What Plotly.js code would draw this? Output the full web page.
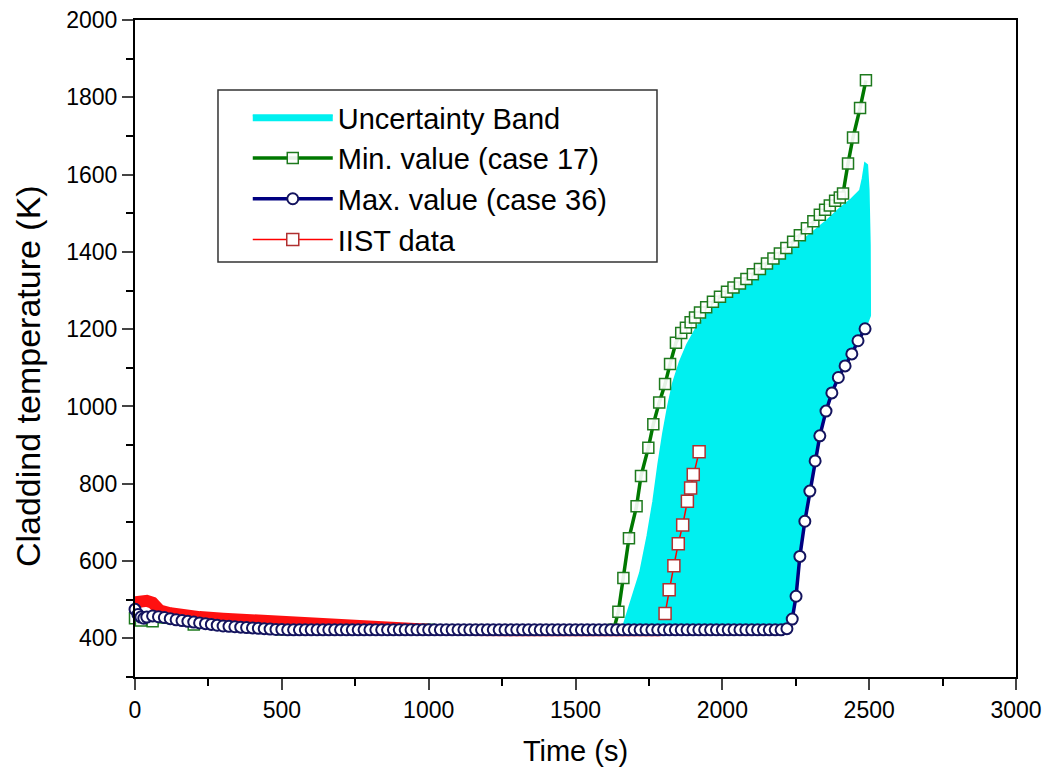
<!DOCTYPE html>
<html><head><meta charset="utf-8">
<script src="https://cdn.plot.ly/plotly-3.0.1.min.js"></script>
<style>body{margin:0;background:#fff}#chart{width:1052px;height:782px}</style>
</head><body><div id="chart"></div>
<script>
// Uncertainty band outline
const bandUpperTime = [1660, 1668, 1690, 1720, 1745, 1765, 1782, 1798, 1815, 1832, 1855, 1880, 1915, 1958, 2010, 2060, 2120, 2196, 2280, 2350, 2400, 2440, 2469, 2478, 2486, 2493, 2498, 2502, 2503];
const bandUpperTemp = [425, 445, 500, 570, 665, 755, 850, 929, 1000, 1060, 1115, 1160, 1208, 1248, 1278, 1302, 1335, 1377, 1433, 1477, 1512, 1537, 1559, 1590, 1629, 1625, 1560, 1420, 1235];
const bandLowerTime = [1660, 2000, 2225, 2238, 2251, 2264, 2281, 2298, 2316, 2332, 2353, 2373, 2395, 2418, 2441, 2462, 2486, 2503];
const bandLowerTemp = [425, 425, 427, 450, 509, 612, 703, 781, 859, 924, 988, 1035, 1075, 1105, 1136, 1170, 1201, 1235];

// Min. value (case 17)
const minTime = [0, 20, 60, 200, 500, 1000, 1630, 1646, 1663, 1682, 1708, 1723, 1748, 1765, 1785, 1805, 1822, 1842, 1860, 1876, 1892, 1907, 1924, 1945, 1968, 1992, 2016, 2038, 2060, 2082, 2104, 2128, 2152, 2174, 2196, 2218, 2241, 2264, 2288, 2310, 2332, 2350, 2366, 2384, 2400, 2411, 2428, 2445, 2469, 2489];
const minTemp = [452, 446, 444, 436, 423, 422, 422, 469, 556, 659, 742, 820, 893, 954, 1010, 1058, 1110, 1165, 1190, 1204, 1218, 1230, 1243, 1257, 1271, 1284, 1297, 1308, 1318, 1330, 1342, 1356, 1370, 1383, 1396, 1410, 1426, 1443, 1461, 1479, 1496, 1509, 1520, 1532, 1541, 1551, 1629, 1696, 1772, 1844];

// Max. value (case 36)
const maxTime = [0, 10, 20, 30, 40, 60, 80, 100, 120, 140, 160, 180, 200, 220, 240, 260, 280, 300, 320, 340, 360, 380, 400, 420, 440, 460, 480, 500, 520,
  540, 560, 580, 600, 620, 640, 660, 680, 700, 720, 740, 760, 780, 800, 820, 840, 860, 880, 900, 920, 940, 960, 980, 1000,
  1020, 1040, 1060, 1080, 1100, 1120, 1140, 1160, 1180, 1200, 1220, 1240, 1260, 1280, 1300, 1320, 1340, 1360, 1380, 1400,
  1420, 1440, 1460, 1480, 1500, 1520, 1540, 1560, 1580, 1600, 1620, 1640, 1660, 1680, 1700, 1720, 1740, 1760, 1780, 1800,
  1820, 1840, 1860, 1880, 1900, 1920, 1940, 1960, 1980, 2000, 2020, 2040, 2060, 2080, 2100, 2120, 2140, 2160, 2180, 2200,
  2220, 2238, 2251, 2264, 2281, 2298, 2316, 2332, 2353, 2373, 2395, 2418, 2441, 2462, 2486];
const maxTemp = [475, 462, 455, 452, 455, 458, 456, 454, 451, 448, 446, 444, 442, 440, 438, 436, 434, 432, 431, 430, 429, 428, 427, 426, 425, 424, 423, 423, 422,
  422, 422, 422, 422, 422, 422, 422, 422, 422, 422, 422, 422, 422, 422, 422, 422, 422, 422, 422, 422, 422, 422, 422, 422,
  422, 422, 422, 422, 422, 422, 422, 422, 422, 422, 422, 422, 422, 422, 422, 422, 422, 422, 422, 422,
  422, 422, 422, 422, 422, 422, 422, 422, 422, 422, 422, 422, 422, 422, 422, 422, 422, 422, 422, 422,
  422, 422, 422, 422, 422, 422, 422, 422, 422, 422, 422, 422, 422, 422, 422, 422, 422, 422, 422, 422,
  425, 450, 509, 612, 703, 781, 859, 924, 988, 1035, 1075, 1105, 1136, 1170, 1201];

// IIST data
const iistTime = [0, 20, 40, 60, 85, 120, 160, 220, 300, 390, 500, 600, 700, 800, 900, 1000, 1300, 1600, 1790,
  1805, 1819, 1835, 1850, 1865, 1881, 1892, 1901, 1921];
const iistTemp = [493, 497, 497, 492, 472, 465, 460, 455, 451, 447, 442, 438, 433, 426, 423, 422, 421, 421, 421,
  464, 526, 588, 645, 693, 755, 789, 824, 883];

const xTitle = 'Time (s)';
const yTitle = 'Claddind temperature (K)';
const rampStart = 1795; // split between the dense early record and the heat-up record

const bandX = bandUpperTime.concat(bandLowerTime.slice().reverse());
const bandY = bandUpperTemp.concat(bandLowerTemp.slice().reverse());

const earlyX = [], earlyY = [], rampX = [], rampY = [];
iistTime.forEach((t, i) => {
  if (t < rampStart) { earlyX.push(t); earlyY.push(iistTemp[i]); }
  else { rampX.push(t); rampY.push(iistTemp[i]); }
});

const cyan = '#00f0f0';
const traces = [
  {x: bandX, y: bandY, mode: 'lines', fill: 'toself', fillcolor: cyan,
   line: {color: cyan, width: 2}, name: 'Uncertainty Band', legendrank: 1, hoverinfo: 'skip'},
  {x: minTime, y: minTemp, mode: 'lines+markers', name: 'Min. value (case 17)', legendrank: 2,
   line: {color: '#007800', width: 3.5}, cliponaxis: false,
   marker: {symbol: 'square', size: 11, color: 'rgba(255,255,255,0.9)', line: {color: '#1e7a1e', width: 1.5}}},
  {x: earlyX, y: earlyY, mode: 'lines', showlegend: false, legendgroup: 'iist',
   line: {color: '#ff1010', width: 12}, cliponaxis: false},
  {x: rampX, y: rampY, mode: 'lines+markers', name: 'IIST data', legendrank: 4, legendgroup: 'iist',
   line: {color: '#ff0000', width: 1.5},
   marker: {symbol: 'square', size: 12, color: 'white', line: {color: '#b03030', width: 1.5}}},
  {x: maxTime, y: maxTemp, mode: 'lines+markers', name: 'Max. value (case 36)', legendrank: 3,
   line: {color: '#000080', width: 3.5}, cliponaxis: false,
   marker: {symbol: 'circle', size: 11, color: 'white', line: {color: '#14145e', width: 2}}}
];

const font = 'Liberation Sans, Arial, sans-serif';
const layout = {
  width: 1052, height: 782,
  margin: {l: 135, r: 36, t: 20, b: 105},
  paper_bgcolor: 'white', plot_bgcolor: 'white',
  font: {family: font, color: '#000'},
  showlegend: true,
  legend: {x: 0.128, y: 0.8904, xanchor: 'left', yanchor: 'top',
    bgcolor: 'rgba(0,0,0,0)', borderwidth: 0,
    font: {family: font, size: 29, color: '#000'}, itemwidth: 80, tracegroupgap: 0},
  shapes: [{type: 'rect', xref: 'paper', yref: 'paper', x0: 0.0942, x1: 0.5925, y0: 0.6317, y1: 0.8935,
    line: {color: '#333', width: 1.5}, fillcolor: 'white', layer: 'below'}],
  annotations: [{text: yTitle, xref: 'paper', yref: 'paper', x: -0.1215, y: 0.458,
    xanchor: 'center', yanchor: 'middle', textangle: -90, showarrow: false,
    font: {family: font, size: 34, color: '#000'}}],
  xaxis: {range: [0, 3000], tick0: 0, dtick: 500, ticks: 'outside', ticklen: 11, tickwidth: 2,
    showline: true, linewidth: 2, linecolor: '#000', mirror: true, showgrid: false, zeroline: false,
    tickfont: {family: font, size: 23, color: '#000'},
    minor: {dtick: 250, ticks: 'outside', ticklen: 7, tickwidth: 2, tickcolor: '#000', showgrid: false},
    title: {text: xTitle, font: {family: font, size: 29, color: '#000'}, standoff: 19}},
  yaxis: {range: [300, 2000], tick0: 0, dtick: 200, ticks: 'outside', ticklen: 11, tickwidth: 2,
    showline: true, linewidth: 2, linecolor: '#000', mirror: true, showgrid: false, zeroline: false,
    tickfont: {family: font, size: 23, color: '#000'},
    minor: {dtick: 100, ticks: 'outside', ticklen: 7, tickwidth: 2, tickcolor: '#000', showgrid: false}}
};

Plotly.newPlot('chart', traces, layout, {displayModeBar: false, staticPlot: true});
</script></body></html>
